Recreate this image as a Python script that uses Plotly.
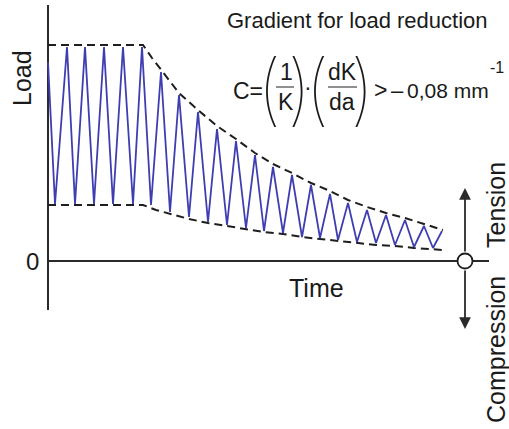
import plotly.graph_objects as go

# ---- data (time units, load units; 0 = zero load line) ----
zigzag_time = [0, 7, 19, 27, 37, 46, 56, 65, 75, 85, 94, 103, 113, 122, 131, 141, 150, 160,
               169, 179, 188, 198, 207, 216, 225, 235, 244, 254, 263, 272, 282, 290, 300, 309,
               319, 328, 338, 347, 357, 366, 376, 385, 394]
zigzag_load = [199, 57, 214, 57, 214, 57, 214, 57, 214, 57, 214, 56, 189, 49, 166, 44, 149, 39,
               132, 36, 120, 33, 106, 30, 94, 28, 86, 24, 76, 23, 67, 21, 58, 19,
               51, 18, 46, 16, 41, 14, 35, 13, 30]

upper_env_time = [0, 95, 104, 113, 122, 131, 150, 169, 188, 207, 225, 244, 263, 282, 300, 319, 338, 357, 376, 395]
upper_env_load = [216, 216, 203, 191, 179, 168, 151, 135, 122, 108, 97, 88, 78, 70, 61, 54, 48, 43, 37, 31]

lower_env_time = [0, 95, 108, 122, 141, 160, 179, 198, 216, 235, 254, 272, 290, 309, 328, 347, 366, 395]
lower_env_load = [56, 56, 51, 47, 42, 38, 35, 32, 29, 27, 24, 22, 20, 18, 16, 15, 13, 11]

origin_time = [417]
origin_load = [0]

W, H = 509, 429
X0, Y0 = 48, 261  # pixel position of the data origin


def dx(px):
    return px - X0


def dy(py):
    return Y0 - py


fig = go.Figure()

dash_style = dict(color="#1e1e1e", width=2, dash="8px,5px")
fig.add_trace(go.Scatter(x=upper_env_time, y=upper_env_load, mode="lines",
                         line=dash_style, hoverinfo="skip"))
fig.add_trace(go.Scatter(x=lower_env_time, y=lower_env_load, mode="lines",
                         line=dash_style, hoverinfo="skip"))
fig.add_trace(go.Scatter(x=zigzag_time, y=zigzag_load, mode="lines",
                         line=dict(color="rgb(62,62,178)", width=1.8), hoverinfo="skip"))
fig.add_trace(go.Scatter(x=origin_time, y=origin_load, mode="markers",
                         marker=dict(size=15, color="white", line=dict(color="#1e1e1e", width=1.8)),
                         hoverinfo="skip"))

axis_col = "#2a2a2a"
shapes = [
    dict(type="line", xref="x", yref="y", x0=0, x1=0, y0=dy(310), y1=dy(5),
         line=dict(color=axis_col, width=2), layer="below"),
    dict(type="line", xref="x", yref="y", x0=0, x1=dx(489), y0=0, y1=0,
         line=dict(color=axis_col, width=2), layer="below"),
    # fraction bars
    dict(type="line", xref="x", yref="y", x0=dx(276), x1=dx(294), y0=dy(87), y1=dy(87),
         line=dict(color="#333", width=1.1)),
    dict(type="line", xref="x", yref="y", x0=dx(328), x1=dx(357), y0=dy(87), y1=dy(87),
         line=dict(color="#333", width=1.1)),
]

FONT = "Liberation Sans, Arial, sans-serif"
TXT = "#1a1a1a"


def label(text, px, py, size, angle=0, family=FONT, weight=None, xanchor="center"):
    f = dict(family=family, size=size, color=TXT)
    if weight is not None:
        f["weight"] = weight
    return dict(text=text, x=dx(px), y=dy(py), xref="x", yref="y", showarrow=False,
                textangle=angle, font=f, xanchor=xanchor, yanchor="middle", borderpad=0)


annotations = [
    label("Load", 22, 78, 25, angle=-90),
    label("0", 32, 261, 24),
    label("Time", 316, 288, 25),
    label("Tension", 496, 205, 25, angle=-90),
    label("Compression", 496, 350, 25, angle=-90),
    label("Gradient for load reduction", 357, 20, 22),
    label("C=", 248, 91, 23),
    label("1", 286, 72, 23),
    label("K", 286, 102, 23),
    label("dK", 342, 72, 23),
    label("da", 342, 102, 23),
    label("·", 308, 87, 23),
    label(">", 380, 90, 23),
    label("–", 397, 90, 22),
    label("0,08 mm", 406, 90, 21, xanchor="left"),
    label("-1", 497, 67, 16),
]

paren_font = "Inter, Liberation Sans, sans-serif"
for ch, px in [("(", 269), (")", 299), ("(", 317), (")", 362)]:
    annotations.append(label(ch, px, 87, 78, family=paren_font, weight=100))

# tension / compression arrows
for tip, tail in [(188, 253), (329, 269)]:
    annotations.append(dict(x=dx(465), y=dy(tip), ax=dx(465), ay=dy(tail),
                            xref="x", yref="y", axref="x", ayref="y", text="",
                            showarrow=True, arrowhead=2, arrowsize=1.3, arrowwidth=1.8,
                            arrowcolor=axis_col))

fig.update_layout(
    width=W, height=H,
    margin=dict(l=0, r=0, t=0, b=0),
    paper_bgcolor="white", plot_bgcolor="white",
    showlegend=False,
    xaxis=dict(range=[-X0, W - X0], visible=False, fixedrange=True),
    yaxis=dict(range=[Y0 - H, Y0], visible=False, fixedrange=True),
    shapes=shapes,
    annotations=annotations,
)

fig.write_html("out.html")
